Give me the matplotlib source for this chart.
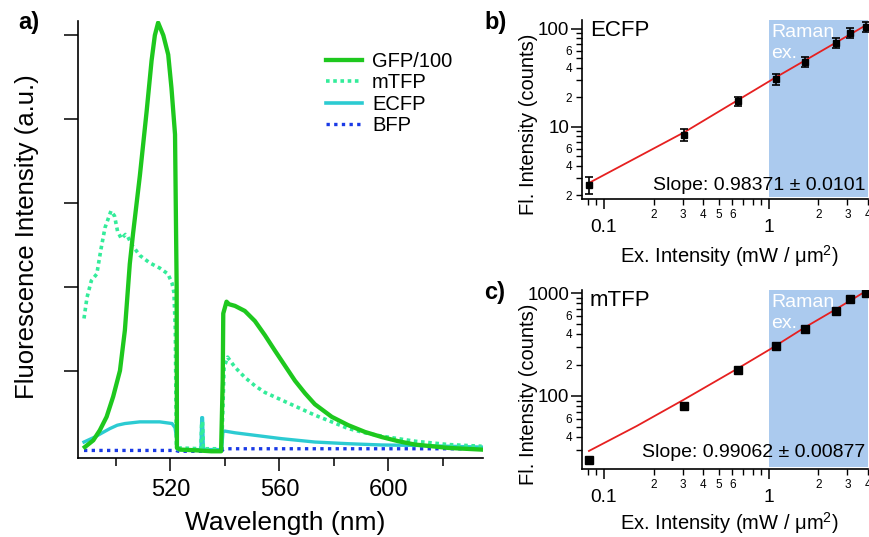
import numpy as np
import matplotlib
matplotlib.use("Agg")
import matplotlib.pyplot as plt
from matplotlib.ticker import FixedLocator, FuncFormatter

plt.rcParams['font.family'] = ['Liberation Sans', 'DejaVu Sans']
plt.rcParams['mathtext.fontset'] = 'custom'
plt.rcParams['mathtext.rm'] = 'Liberation Sans'
plt.rcParams['mathtext.default'] = 'regular'

# ---- panel a: emission spectra (a.u., GFP divided by 100) ----
gfp_wl = [488.6, 491.7, 494.1, 496.6, 499.0, 501.5, 503.3, 505.1, 506.3, 508.8,
          511.3, 513.1, 514.3, 515.5, 517.4, 519.2, 520.4, 521.7, 522.3, 522.4,
          523.5, 530.0, 535.0, 538.6, 539.2, 539.4, 540.6, 541.5, 543.7, 547.3,
          551.0, 554.7, 558.3, 562.0, 565.7, 569.4, 573.0, 579.2, 585.3, 591.4,
          597.5, 603.6, 609.7, 615.9, 622.0, 634.2]
gfp_val = [0.10, 0.18, 0.30, 0.46, 0.70, 1.01, 1.49, 2.28, 2.64, 3.33,
           4.10, 4.70, 5.00, 5.15, 5.00, 4.77, 4.37, 3.82, 2.00, 0.09,
           0.07, 0.06, 0.05, 0.05, 0.90, 1.69, 1.83, 1.80, 1.78, 1.72,
           1.60, 1.43, 1.25, 1.07, 0.89, 0.74, 0.61, 0.46, 0.36, 0.28,
           0.22, 0.17, 0.13, 0.11, 0.09, 0.07]

mtfp_wl = [488.3, 489.4, 491.0, 493.0, 494.5, 496.0, 498.2, 499.5, 500.6, 502.0,
           503.5, 504.4, 506.0, 508.8, 512.5, 516.1, 519.1, 520.6, 521.3, 521.8,
           522.2, 523.0, 531.2, 531.5, 531.8, 532.1, 538.8, 539.3, 539.7, 541.0,
           543.7, 547.3, 551.0, 554.7, 560.8, 566.9, 573.0, 579.2, 585.3, 591.4,
           597.5, 609.7, 622.0, 634.2]
mtfp_val = [1.63, 1.88, 2.08, 2.16, 2.45, 2.71, 2.91, 2.85, 2.67, 2.58,
            2.63, 2.60, 2.50, 2.38, 2.29, 2.23, 2.16, 2.05, 1.94, 1.50,
            0.12, 0.09, 0.08, 0.40, 0.40, 0.08, 0.08, 0.60, 1.05, 1.17,
            1.05, 0.93, 0.83, 0.75, 0.66, 0.57, 0.48, 0.40, 0.32, 0.27,
            0.23, 0.17, 0.13, 0.11]

ecfp_wl = [488.3, 492.3, 495.0, 497.8, 500.5, 503.3, 508.8, 516.1, 520.6, 521.7,
           522.3, 522.6, 531.2, 531.5, 531.8, 532.1, 538.8, 539.3, 540.0, 543.7,
           551.0, 560.8, 573.0, 585.3, 597.5, 609.7, 634.2]
ecfp_val = [0.16, 0.22, 0.27, 0.32, 0.36, 0.38, 0.40, 0.40, 0.38, 0.33,
            0.20, 0.07, 0.07, 0.45, 0.45, 0.07, 0.07, 0.29, 0.29, 0.27,
            0.24, 0.20, 0.16, 0.14, 0.125, 0.12, 0.10]

bfp_wl = [488.3, 522.0, 523.0, 538.8, 539.5, 634.2]
bfp_val = [0.06, 0.06, 0.05, 0.05, 0.08, 0.08]

# ---- panels b, c: power dependence ----
ex_int = [0.081, 0.305, 0.65, 1.10, 1.65, 2.55, 3.10, 3.87]
ecfp_counts = [2.56, 8.3, 18.4, 30.9, 46, 72, 91, 105]
ecfp_err = [0.5, 1.2, 2.0, 4.0, 5.5, 8.5, 11, 12]
mtfp_counts = [23.9, 80, 179, 305, 447, 668, 875, 1000]

ecfp_fit_x = [0.0811, 0.31, 1.117, 3.93]
ecfp_fit_y = [2.68, 8.9, 32.4, 110]
mtfp_fit_x = [0.0811, 0.158, 0.305, 0.649, 1.014, 1.65, 2.51, 3.82]
mtfp_fit_y = [29.2, 51, 92, 185, 283, 462, 684, 1026]

ecfp_slope = "Slope: 0.98371 \u00b1 0.0101"
mtfp_slope = "Slope: 0.99062 \u00b1 0.00877"

c_gfp = '#1ec81e'
c_mtfp = '#33ec9a'
c_ecfp = '#2ccbd2'
c_bfp = '#1a3ae6'
shade = '#abcaee'

fig = plt.figure(figsize=(8.7, 5.37), dpi=100)

# ================= panel a =================
ax = fig.add_axes([78/870, 1 - 458/537, 405/870, 437/537])
ax.plot(bfp_wl, bfp_val, color=c_bfp, lw=2.4, ls=(0, (1, 1.3)), zorder=2)
ax.plot(ecfp_wl, ecfp_val, color=c_ecfp, lw=2.4, zorder=3)
ax.plot(mtfp_wl, mtfp_val, color=c_mtfp, lw=2.6, ls=(0, (1, 1)), zorder=4)
ax.plot(gfp_wl, gfp_val, color=c_gfp, lw=3.1, zorder=5)

handles = [
    plt.Line2D([], [], color=c_gfp, lw=3.1),
    plt.Line2D([], [], color=c_mtfp, lw=2.6, ls=(0, (1, 1))),
    plt.Line2D([], [], color=c_ecfp, lw=2.6),
    plt.Line2D([], [], color=c_bfp, lw=2.4, ls=(0, (1, 1.3))),
]
ax.legend(handles, ['GFP/100', 'mTFP', 'ECFP', 'BFP'], loc='upper left',
          bbox_to_anchor=(0.612, 0.929), frameon=False, fontsize=14.5,
          handlelength=1.8, handletextpad=0.5, labelspacing=0.12,
          borderpad=0, borderaxespad=0)

ax.set_xlim(486.1, 634.7)
ax.set_ylim(-0.03, 5.17)
ax.set_xticks([520, 560, 600])
ax.set_xticks([500, 540, 580, 620], minor=True)
ax.set_yticks([1, 2, 3, 4, 5])
ax.set_yticklabels([])
ax.tick_params(axis='x', which='major', length=9, width=1.1, labelsize=17, pad=6)
ax.tick_params(axis='x', which='minor', length=5.5, width=1.1)
ax.tick_params(axis='y', which='major', length=10, width=1.1)
for s in ['top', 'right']:
    ax.spines[s].set_visible(False)
for s in ['left', 'bottom']:
    ax.spines[s].set_linewidth(1.2)
ax.set_xlabel('Wavelength (nm)', fontsize=19)
ax.xaxis.set_label_coords(0.511, -0.122)
ax.set_ylabel('Fluorescence Intensity (a.u.)', fontsize=18.5)
ax.yaxis.set_label_coords(-0.097, 0.506)
fig.text(18/870, 1 - 22/537, 'a)', fontsize=17, fontweight='bold', va='center')


def lead_digit(v):
    e = np.floor(np.log10(v) + 1e-9)
    return int(round(v / 10**e))


def style_log(ax, xminor, yminor, ymajor, ylabels_on, xlabel_y):
    ax.set_xscale('log')
    ax.set_yscale('log')
    ax.xaxis.set_major_locator(FixedLocator([0.1, 1]))
    ax.xaxis.set_major_formatter(FuncFormatter(lambda v, p: '%g' % v))
    ax.xaxis.set_minor_locator(FixedLocator(xminor))
    ax.xaxis.set_minor_formatter(FuncFormatter(
        lambda v, p: str(lead_digit(v)) if lead_digit(v) in (2, 3, 4, 5, 6) and v > 0.1 else ''))
    ax.yaxis.set_major_locator(FixedLocator(ymajor))
    ax.yaxis.set_major_formatter(FuncFormatter(lambda v, p: '%g' % v))
    ax.yaxis.set_minor_locator(FixedLocator(yminor))
    ax.yaxis.set_minor_formatter(FuncFormatter(
        lambda v, p: str(lead_digit(v)) if lead_digit(v) in ylabels_on else ''))
    ax.tick_params(axis='x', which='major', length=7.2, width=1.1, labelsize=13.8, pad=7.5)
    ax.tick_params(axis='x', which='minor', length=4.3, width=1.0, labelsize=8.5, pad=3)
    ax.tick_params(axis='y', which='major', length=8, width=1.1, labelsize=13.5, pad=1)
    ax.tick_params(axis='y', which='minor', length=4.3, width=1.0, labelsize=8.5, pad=3)
    for s in ['top', 'right']:
        ax.spines[s].set_visible(False)
    for s in ['left', 'bottom']:
        ax.spines[s].set_linewidth(1.2)
    ax.set_xlabel('Ex. Intensity (mW / \u03bcm$^{2}$)', fontsize=14.5)
    ax.xaxis.set_label_coords(0.517, xlabel_y)
    ax.set_ylabel('Fl. Intensity (counts)', fontsize=14.5)
    ax.yaxis.set_label_coords(-0.155, 0.42)
    ax.set_xlim(0.0736, 4.0)


xminor = [0.07, 0.08, 0.09, 0.2, 0.3, 0.4, 0.5, 0.6, 0.7, 0.8, 0.9, 2, 3, 4]

# ================= panel b =================
axb = fig.add_axes([582/870, 1 - 199/537, 286/870, 179/537])
axb.axvspan(1, 4.0, ymin=0.012, ymax=1, color=shade, lw=0, zorder=0)
axb.plot(ecfp_fit_x, ecfp_fit_y, color='#e62020', lw=1.3, zorder=3)
axb.errorbar(ex_int, ecfp_counts, yerr=ecfp_err, fmt='s', color='black', ms=5,
             capsize=3, elinewidth=1.2, capthick=1.2, zorder=4)
style_log(axb, xminor, [2, 3, 4, 5, 6, 7, 8, 9, 20, 30, 40, 50, 60, 70, 80, 90],
          [10, 100], (2, 4, 6), -0.245)
axb.set_ylim(1.84, 123)
axb.text(0.028, 0.944, 'ECFP', transform=axb.transAxes, fontsize=16, va='center')
axb.text(1.03, 0.975, 'Raman\nex.', color='white', fontsize=14, va='top', ha='left',
         linespacing=1.3, transform=axb.get_xaxis_transform())
axb.text(0.99, 0.078, ecfp_slope, transform=axb.transAxes, fontsize=14,
         ha='right', va='center')
fig.text(484/870, 1 - 22/537, 'b)', fontsize=17, fontweight='bold', va='center')

# ================= panel c =================
axc = fig.add_axes([582/870, 1 - 469/537, 286/870, 179/537])
axc.axvspan(1, 4.0, ymin=0.012, ymax=1, color=shade, lw=0, zorder=0)
axc.plot(mtfp_fit_x, mtfp_fit_y, color='#e62020', lw=1.3, zorder=3)
axc.plot(ex_int, mtfp_counts, 's', color='black', ms=5.5, zorder=4)
style_log(axc, xminor, [30, 40, 50, 60, 70, 80, 90, 200, 300, 400, 500, 600, 700, 800, 900],
          [100, 1000], (2, 4, 6), -0.228)
axc.set_ylim(19.5, 1070)
axc.text(0.028, 0.944, 'mTFP', transform=axc.transAxes, fontsize=16, va='center')
axc.text(1.03, 0.975, 'Raman\nex.', color='white', fontsize=14, va='top', ha='left',
         linespacing=1.3, transform=axc.get_xaxis_transform())
axc.text(0.99, 0.09, mtfp_slope, transform=axc.transAxes, fontsize=14,
         ha='right', va='center')
fig.text(484/870, 1 - 292/537, 'c)', fontsize=17, fontweight='bold', va='center')

fig.savefig('out.png', dpi=100)
